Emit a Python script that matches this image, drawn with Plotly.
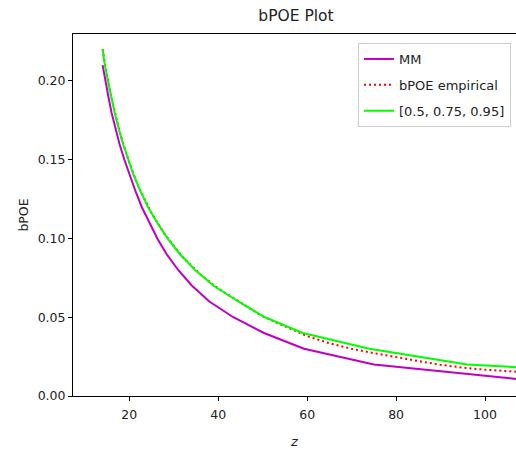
import plotly.graph_objects as go

# MM curve: bPOE levels and corresponding z thresholds
mm_y = [0.21, 0.20, 0.19, 0.18, 0.17, 0.16, 0.15, 0.14, 0.13, 0.12, 0.11,
        0.10, 0.09, 0.08, 0.07, 0.06, 0.05, 0.04, 0.03, 0.02, 0.01]
mm_z = [14.0, 14.6, 15.3, 16.0, 16.9, 17.8, 18.9, 20.1, 21.4, 22.8, 24.5,
        26.3, 28.4, 31.0, 34.1, 38.0, 43.4, 50.3, 59.3, 75.0, 110.0]

# bPOE empirical
emp_z = [14, 15, 16, 18, 20, 22, 25, 28, 32, 36, 40, 45, 50, 55, 60, 65, 70,
         75, 80, 85, 90, 95, 100, 107, 110, 120]
emp_y = [0.220, 0.203, 0.189, 0.166, 0.148, 0.1333, 0.116, 0.1026, 0.0882,
         0.0771, 0.0682, 0.0592, 0.0506, 0.0442, 0.0380, 0.0335, 0.0300,
         0.0272, 0.0245, 0.0222, 0.0198, 0.0180, 0.0167, 0.0153, 0.0147, 0.0131]

# [0.5, 0.75, 0.95] curve
q_y = [0.22, 0.21, 0.20, 0.19, 0.18, 0.17, 0.16, 0.15, 0.14, 0.13, 0.12,
       0.11, 0.10, 0.09, 0.08, 0.07, 0.06, 0.05, 0.04, 0.03, 0.02, 0.01]
q_z = [14.0, 14.5, 15.2, 15.9, 16.7, 17.6, 18.6, 19.8, 21.0, 22.5, 24.2,
       26.3, 28.6, 31.4, 34.8, 39.0, 44.5, 50.5, 59.0, 74.0, 96.0, 160.0]

x_ticks = [20, 40, 60, 80, 100]
y_ticks = [0.00, 0.05, 0.10, 0.15, 0.20]

FONT = "DejaVu Sans"
W, H = 516, 450
L, R, T, B = 73, 0, 34, 54

fig = go.Figure()
fig.add_trace(go.Scatter(x=mm_z, y=mm_y, mode="lines", name="MM",
                         line=dict(color="#bf00bf", width=2),
                         legendgroup="a"))
fig.add_trace(go.Scatter(x=emp_z, y=emp_y, mode="lines", name="bPOE empirical",
                         line=dict(color="#ff0000", width=2, dash="2px,3px"),
                         legendgroup="b"))
fig.add_trace(go.Scatter(x=q_z, y=q_y, mode="lines", name="[0.5, 0.75, 0.95]",
                         line=dict(color="#00ff00", width=2),
                         legendgroup="c"))

fig.update_layout(
    width=W, height=H,
    margin=dict(l=L, r=R, t=T, b=B, autoexpand=False),
    paper_bgcolor="white", plot_bgcolor="white",
    font=dict(family=FONT, size=12.5, color="#222222"),
    title=dict(text="bPOE Plot", x=296 / W, xanchor="center",
               y=1 - 16 / H, yanchor="middle", xref="container", yref="container",
               font=dict(family=FONT, size=15.5, color="#222222")),
    showlegend=True,
    legend=dict(x=(358 - L) / (W - L - R), y=(H - B - 43) / (H - T - B),
                xanchor="left", yanchor="top",
                bgcolor="rgba(255,255,255,0.85)", bordercolor="#cccccc",
                borderwidth=1, itemwidth=30, tracegroupgap=6,
                traceorder="grouped",
                font=dict(family=FONT, size=13, color="#222222")),
    xaxis=dict(range=[7.34, 106.97], tickvals=x_ticks,
               ticktext=[str(v) for v in x_ticks], automargin=False,
               showgrid=False, zeroline=False,
               showline=True, linecolor="#000000", linewidth=1, mirror=True,
               ticks="outside", ticklen=4, tickwidth=1, tickcolor="#000000",
               ticklabelstandoff=3,
               title=dict(text="<i>z</i>", standoff=15,
                          font=dict(family=FONT, size=13))),
    yaxis=dict(range=[0, 0.2298], tickvals=y_ticks,
               ticktext=[f"{v:.2f}" for v in y_ticks], automargin=False,
               showgrid=False, zeroline=False,
               showline=True, linecolor="#000000", linewidth=1, mirror=False,
               ticks="outside", ticklen=4, tickwidth=1, tickcolor="#000000",
               title=dict(text="bPOE", standoff=6,
                          font=dict(family=FONT, size=12.5))),
)

fig.write_html("out.html",
               config={"displayModeBar": False},
               post_script="document.body.style.margin='0';"
                           "document.body.style.overflow='hidden';")
